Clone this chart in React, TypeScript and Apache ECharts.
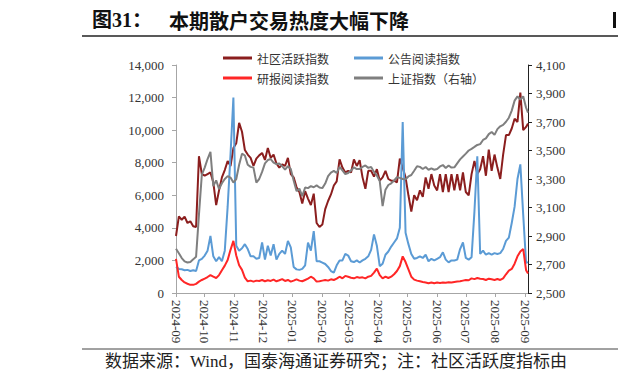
import React, { useEffect, useRef } from "react";
import * as echarts from "echarts";

// Calendar axis: every day from 2024-09-01 to 2025-09-04; values sampled every 3 days
const AXIS_START_UTC = Date.UTC(2024, 8, 1);
const AXIS_DAY_COUNT = 369;
const SAMPLE_STEP_DAYS = 3;

const seriesNames = ["社区活跃指数", "公告阅读指数", "研报阅读指数", "上证指数（右轴）"];

// 社区活跃指数 (left axis)
const communityActivity = [
  3500, 4700, 4500, 4690, 4300, 4400, 4100, 4050, 8400, 7300,
  7200, 7300, 7400, 6800, 5400, 6300, 7100, 7550, 8100, 7800,
  8900, 9200, 10450, 9900, 8780, 8500, 8300, 7800, 8250, 8450,
  8600, 8170, 8900, 8300, 8500, 7950, 7700, 7900, 7800, 8300,
  7300, 7100, 6500, 6200, 5500, 6250, 5800, 5400, 6100, 4300,
  4050, 4200, 5150, 5650, 6050, 6600, 6850, 8200, 7700, 7400,
  7500, 7400, 8200, 7800, 8150, 7100, 6400, 7500, 7500, 7150,
  7600, 6900, 7100, 7500, 7000, 6900, 6900, 6800, 8250, 7700,
  7100, 6000, 5000, 6000, 5700, 6300, 5900, 7100, 6400, 7300,
  6600, 6300, 7300, 6200, 7300, 6200, 7300, 6300, 7300, 6300,
  7400, 6200, 6000, 7300, 8100, 7300, 7600, 8400, 7200, 8800,
  7500, 8500, 7700, 7000, 8500, 9700, 9700, 10100, 10700, 10500,
  12300, 10000, 10200, 10400,
];

// 公告阅读指数 (left axis)
const announcementReading = [
  1600, 1480, 1455, 1400, 1420, 1350, 1400, 1350, 2000, 2100,
  2300, 2600, 3500, 2250, 1950, 2200, 1950, 2600, 5300, 8500,
  12000, 2900, 2600, 2750, 3000, 2700, 2250, 2250, 2100, 2150,
  3100, 2050, 2900, 2300, 3000, 2050, 2400, 2600, 2400, 3200,
  2800, 1600, 1450, 1420, 1480, 1700, 3100, 2600, 3800, 1950,
  1950, 1870, 1780, 1600, 1350, 1250, 1700, 2000, 2000, 2400,
  2300, 1950, 1900, 2000, 1870, 2000, 2100, 2250, 2650, 3600,
  2900, 1650, 1800, 2350, 2550, 2850, 3100, 3350, 4000, 10500,
  3700, 3000, 2400, 2100, 2150, 2250, 2150, 2350, 1950, 2100,
  2000, 2100, 2200, 2500, 2050, 1880, 2000, 2000, 2050, 2700,
  3100, 2150, 2050, 2200, 5000, 8400, 2400, 2600, 2350, 2450,
  2350, 2450, 2400, 2450, 2700, 3200, 3400, 4300, 5300, 7000,
  7900, 4800, 1850, 1900,
];

// 研报阅读指数 (left axis)
const researchReading = [
  2100, 1000, 800, 650, 570, 500, 500, 560, 700, 800,
  880, 980, 1100, 1000, 920, 1100, 1400, 1680, 2030, 2650,
  3200, 2300, 1700, 1420, 950, 720, 760, 700, 760, 740,
  800, 720, 780, 740, 820, 720, 780, 850, 740, 800,
  700, 760, 840, 760, 720, 800, 880, 1000, 900, 700,
  720, 760, 800, 760, 840, 800, 880, 1000, 900, 1050,
  1000, 940, 900, 980, 940, 960, 900, 1000, 1050, 1250,
  1500, 1100, 900, 1000, 920, 1000, 1150, 1350, 1650, 2250,
  1900, 1450, 1000, 820, 760, 720, 680, 650, 600, 650,
  600, 640, 620, 640, 630, 660, 650, 680, 700, 720,
  760, 800, 780, 900, 850, 920, 880, 860, 800, 880,
  840, 800, 860, 800, 900, 1150, 1380, 1480, 1800, 2250,
  2550, 2700, 1400, 1200,
];

// 上证指数 (right axis)
const shanghaiIndex = [
  2811, 2779, 2745, 2722, 2714, 2718, 2736, 2755, 3050, 3330,
  3380, 3440, 3490, 3250, 3290, 3230, 3270, 3300, 3320, 3310,
  3275, 3300, 3400, 3478, 3465, 3400, 3385, 3380, 3275, 3300,
  3350, 3410, 3433, 3440, 3415, 3405, 3408, 3390, 3365, 3390,
  3370, 3290, 3215, 3232, 3180, 3240, 3236, 3250, 3242, 3255,
  3240, 3236, 3268, 3320, 3345, 3357, 3342, 3385, 3360, 3335,
  3342, 3360, 3382, 3370, 3370, 3385, 3395, 3378, 3385, 3350,
  3325, 3285, 3110, 3225, 3258, 3270, 3290, 3312, 3308, 3300,
  3298, 3318, 3328, 3358, 3390, 3385, 3370, 3384, 3365, 3375,
  3365, 3370, 3388, 3398, 3377, 3395, 3380, 3382, 3410, 3438,
  3458, 3478, 3500, 3512, 3525, 3539, 3545, 3574, 3585, 3615,
  3630, 3610, 3650, 3670, 3680, 3702, 3730, 3780, 3850, 3880,
  3858, 3880, 3800, 3766,
];

const rightTickValues = [2500, 2700, 2900, 3100, 3300, 3500, 3700, 3900, 4100];

const seriesColors = ["#8B1E1E", "#5B9BD5", "#FF2626", "#7F7F7F"];

function dayString(offset: number): string {
  return new Date(AXIS_START_UTC + offset * 86400000).toISOString().slice(0, 10);
}

const axisDates = Array.from({ length: AXIS_DAY_COUNT }, (_, i) => dayString(i));
const sampleDates = communityActivity.map((_, i) =>
  dayString(Math.min(i * SAMPLE_STEP_DAYS, AXIS_DAY_COUNT - 1))
);

const pair = (arr: number[]) => sampleDates.map((d, i) => [d, arr[i]]);

const SERIF = "'Liberation Serif', 'Noto Sans CJK SC', serif";
const CJK = "'Noto Sans CJK SC', sans-serif";

export default function App() {
  const ref = useRef<HTMLDivElement>(null);

  useEffect(() => {
    if (!ref.current) return;
    const chart = echarts.init(ref.current, null, { renderer: "svg" });
    const isMonthStart = (_i: number, v: string) => v.endsWith("-01");
    const legendCommon = {
      left: 223,
      padding: 0,
      itemWidth: 29,
      itemHeight: 3,
      itemGap: 25,
      icon: "rect",
      selectedMode: false,
      textStyle: { fontSize: 12, fontFamily: CJK, color: "#333" },
    };
    chart.setOption({
      animation: false,
      backgroundColor: "#fff",
      grid: { left: 176, right: 90, top: 65, bottom: 92, containLabel: false },
      legend: [
        { ...legendCommon, top: 52, data: [seriesNames[0], seriesNames[1]] },
        { ...legendCommon, top: 72, data: [seriesNames[2], seriesNames[3]] },
      ],
      xAxis: {
        type: "category",
        data: axisDates,
        boundaryGap: false,
        axisLine: { show: true, lineStyle: { color: "#a6a6a6", width: 1 } },
        axisTick: {
          show: true,
          interval: isMonthStart,
          length: 4,
          lineStyle: { color: "#a6a6a6" },
        },
        axisLabel: {
          interval: isMonthStart,
          formatter: (v: string) => v.slice(0, 7),
          rotate: -90,
          margin: 7,
          fontSize: 13,
          fontFamily: SERIF,
          color: "#333",
        },
        splitLine: { show: false },
      },
      yAxis: [
        {
          type: "value",
          position: "left",
          min: 0,
          max: 14000,
          interval: 2000,
          axisLine: { show: true, lineStyle: { color: "#a6a6a6" } },
          axisTick: { show: true, length: 4, lineStyle: { color: "#a6a6a6" } },
          axisLabel: {
            formatter: (v: number) => v.toLocaleString("en-US"),
            margin: 12,
            fontSize: 13,
            fontFamily: SERIF,
            color: "#333",
          },
          splitLine: { show: false },
        },
        {
          type: "value",
          position: "right",
          min: 2500,
          max: 4100,
          axisLine: { show: true, lineStyle: { color: "#222" } },
          axisTick: {
            show: true,
            length: 4,
            customValues: rightTickValues,
            lineStyle: { color: "#222" },
          },
          axisLabel: {
            customValues: rightTickValues,
            formatter: (v: number) => v.toLocaleString("en-US"),
            margin: 8,
            fontSize: 13,
            fontFamily: SERIF,
            color: "#333",
          },
          splitLine: { show: false },
        },
      ],
      series: [
        { name: seriesNames[0], data: pair(communityActivity), yAxisIndex: 0 },
        { name: seriesNames[1], data: pair(announcementReading), yAxisIndex: 0 },
        { name: seriesNames[2], data: pair(researchReading), yAxisIndex: 0 },
        { name: seriesNames[3], data: pair(shanghaiIndex), yAxisIndex: 1 },
      ].map((s, i) => ({
        ...s,
        type: "line",
        showSymbol: false,
        symbol: "none",
        color: seriesColors[i],
        lineStyle: { width: 2, color: seriesColors[i] },
      })),
      graphic: [
        {
          type: "text",
          x: 92,
          y: 20,
          style: {
            text: "图31：",
            fontSize: 20,
            fontWeight: "bold",
            fontFamily: SERIF,
            fill: "#111",
            verticalAlign: "middle",
          },
        },
        {
          type: "text",
          x: 169,
          y: 20,
          style: {
            text: "本期散户交易热度大幅下降",
            fontSize: 20,
            fontWeight: "bold",
            fontFamily: CJK,
            fill: "#111",
            verticalAlign: "middle",
          },
        },
        {
          type: "rect",
          shape: { x: 613, y: 12, width: 3, height: 16 },
          style: { fill: "#111" },
        },
        {
          type: "line",
          shape: { x1: 82, y1: 36, x2: 618, y2: 36 },
          style: { stroke: "#222", lineWidth: 1.5 },
        },
        {
          type: "line",
          shape: { x1: 82, y1: 349, x2: 618, y2: 349 },
          style: { stroke: "#444", lineWidth: 1 },
        },
        {
          type: "text",
          x: 105,
          y: 361,
          style: {
            text: "数据来源：Wind，国泰海通证券研究；注：社区活跃度指标由",
            fontSize: 17,
            fontFamily: SERIF,
            fill: "#222",
            verticalAlign: "middle",
          },
        },
      ],
    });
    return () => chart.dispose();
  }, []);

  return (
    <div
      ref={ref}
      style={{ position: "fixed", left: 0, top: 0, width: 618, height: 385, background: "#fff" }}
    />
  );
}
